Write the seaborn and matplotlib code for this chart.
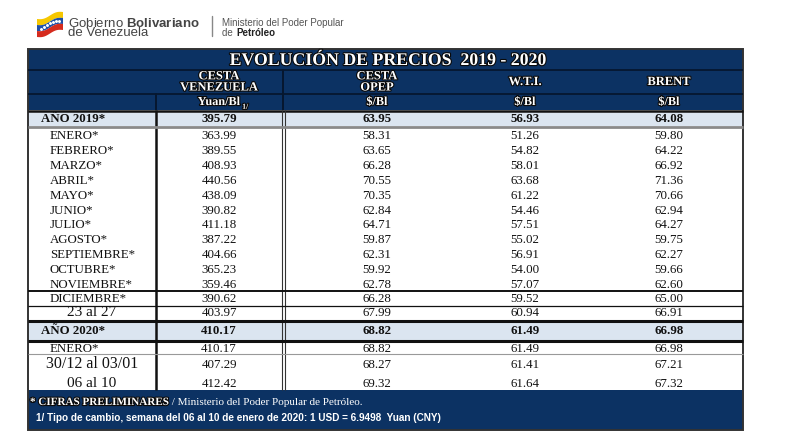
import numpy as np
import matplotlib.pyplot as plt
import matplotlib.patheffects as pe
from matplotlib.patches import Rectangle, Polygon
import seaborn as sns

sns.set_theme(style="white")
plt.rcParams['font.family'] = ['Liberation Serif', 'DejaVu Serif']
plt.rcParams['mathtext.fontset'] = 'custom'
plt.rcParams['mathtext.rm'] = 'Liberation Sans'
plt.rcParams['mathtext.bf'] = 'Liberation Sans:bold'

# ---- data ----
title = "EVOLUCIÓN DE PRECIOS  2019 - 2020"
columns = ["CESTA\nVENEZUELA", "CESTA\nOPEP", "W.T.I.", "BRENT"]
units = ["Yuan/Bl", "$/Bl", "$/Bl", "$/Bl"]

row_labels = ["AÑO 2019*", "ENERO*", "FEBRERO*", "MARZO*", "ABRIL*", "MAYO*",
              "JUNIO*", "JULIO*", "AGOSTO*", "SEPTIEMBRE*", "OCTUBRE*",
              "NOVIEMBRE*", "DICIEMBRE*", "23 al 27", "AÑO 2020*", "ENERO*",
              "30/12 al 03/01", "06 al 10"]
venezuela = [395.79, 363.99, 389.55, 408.93, 440.56, 438.09, 390.82, 411.18,
             387.22, 404.66, 365.23, 359.46, 390.62, 403.97, 410.17, 410.17,
             407.29, 412.42]
opep = [63.95, 58.31, 63.65, 66.28, 70.55, 70.35, 62.84, 64.71, 59.87, 62.31,
        59.92, 62.78, 66.28, 67.99, 68.82, 68.82, 68.27, 69.32]
wti = [56.93, 51.26, 54.82, 58.01, 63.68, 61.22, 54.46, 57.51, 55.02, 56.91,
       54.00, 57.07, 59.52, 60.94, 61.49, 61.49, 61.41, 61.64]
brent = [64.08, 59.80, 64.22, 66.92, 71.36, 70.66, 62.94, 64.27, 59.75, 62.27,
         59.66, 62.60, 65.00, 66.91, 66.98, 66.98, 67.21, 67.32]

footnote_a = "* CIFRAS PRELIMINARES"
footnote_b = " / Ministerio del Poder Popular de Petróleo."
footnote_c = "1/ Tipo de cambio, semana del 06 al 10 de enero de 2020: 1 USD = 6.9498  Yuan (CNY)"

# ---- layout ----
NAVY = '#0c3263'
LIGHT = '#dbe5f0'
INK = '#111111'
X0, X1 = 28, 743
col_x = [219, 377, 525, 669]
row_kind = ['year'] + ['month'] * 12 + ['week', 'year', 'month', 'week', 'week']
row_base = [122] + [139 + 14.9 * i for i in range(11)] + [302.5, 316.5, 334, 351.5, 368.5, 387]

fig = plt.figure(figsize=(8, 4.45), dpi=100)
ax = fig.add_axes([0, 0, 1, 1])
ax.set_xlim(0, 800)
ax.set_ylim(445, 0)
ax.axis('off')

# logo: waving flag
xs = np.linspace(37, 63, 40)
base = 19 - 0.27 * (xs - 37) + 1.5 * np.sin((xs - 37) / 26 * 2 * np.pi)
for k, c in enumerate(['#f6c700', '#1f4fa8', '#d52b1e']):
    top = base + 6 * k
    bot = base + 6 * (k + 1)
    ax.add_patch(Polygon(np.r_[np.c_[xs, top], np.c_[xs[::-1], bot[::-1]]],
                         closed=True, color=c, lw=0))
for s in np.linspace(41, 59, 7):
    yb = np.interp(s, xs, base) + 9.5 - 1.5 * np.sin((s - 41) / 18 * np.pi)
    ax.plot(s, yb, 'o', ms=1.1, color='white')

sans = ['Liberation Sans', 'DejaVu Sans']
ax.text(68, 36, "Gobierno $\\mathbf{Bolivariano}$\nde Venezuela", family=sans,
        fontsize=9.5, color='#444444', va='baseline', linespacing=0.72)
ax.plot([212, 212], [16, 36], color='#888888', lw=1)
ax.text(222.5, 26.5, "Ministerio del Poder Popular", family=sans, fontsize=7,
        color='#555555', va='baseline')
m1 = ax.text(222.5, 35.5, "de ", family=sans, fontsize=7, color='#555555', va='baseline')
ax.annotate("Petróleo", xy=(1, 0), xycoords=m1, family=sans, fontsize=7,
            fontweight='bold', color='#222222', va='bottom')

# table backgrounds
ax.add_patch(Rectangle((X0, 49), X1 - X0, 61, color=NAVY, lw=0))
ax.add_patch(Rectangle((X0, 390), X1 - X0, 40, color=NAVY, lw=0))
ax.add_patch(Rectangle((X0, 111), X1 - X0, 15, color=LIGHT, lw=0))
ax.add_patch(Rectangle((X0, 322), X1 - X0, 18, color=LIGHT, lw=0))

# header lines
ax.hlines([69.5, 93.5], X0, X1, color='#06172f', lw=1.3)
ax.hlines(110.5, X0, X1, color=INK, lw=1.8)
ax.vlines(282.5, 69, 110, color='#06172f', lw=1.4)
ax.vlines(156, 93, 110, color='#06172f', lw=1.4)

# body lines
ax.vlines(156, 110, 390, color=INK, lw=1.8)
ax.vlines([281.5, 284.5], 110, 390, color='#333333', lw=0.8)
ax.hlines(126.8, X0, X1, color='#8a8a8a', lw=2.0)
ax.hlines(290.5, X0, X1, color=INK, lw=1.4)
ax.hlines(305.5, X0, X1, color=INK, lw=0.9)
ax.hlines(321, X0, X1, color=INK, lw=2.2)
ax.hlines(341, X0, X1, color=INK, lw=2.2)
ax.hlines(354, X0, X1, color='#999999', lw=0.8)
ax.add_patch(Rectangle((X0, 49), X1 - X0, 381, fill=False, ec='#333333', lw=1.4))

# header text
emboss = [pe.withStroke(linewidth=1.6, foreground='#0a0a0a')]
ax.text(388, 65, title, ha='center', va='baseline', color='white',
        fontsize=12.8, fontweight='bold', path_effects=emboss)
for x, name, unit in zip(col_x, columns, units):
    lines = name.split('\n')
    if len(lines) == 2:
        ax.text(x, 79.3, lines[0], ha='center', va='baseline', color='white', fontsize=9,
                fontweight='bold', path_effects=emboss)
        ax.text(x, 90.5, lines[1], ha='center', va='baseline', color='white', fontsize=9,
                fontweight='bold', path_effects=emboss)
    else:
        ax.text(x, 85, name, ha='center', va='baseline', color='white', fontsize=9,
                fontweight='bold', path_effects=emboss)
    u = ax.text(x, 105, unit, ha='center', va='baseline', color='white', fontsize=8.8,
                fontweight='bold', path_effects=emboss)
    if unit.startswith('Yuan'):
        ax.annotate(" 1/", xy=(1, 0), xycoords=u, xytext=(0, -2), textcoords='offset points',
                    color='white', fontsize=5.5, fontweight='bold', va='bottom',
                    path_effects=emboss)

# body text
for i, (lab, kind, yb) in enumerate(zip(row_labels, row_kind, row_base)):
    bold = 'bold' if kind == 'year' else 'normal'
    if kind == 'year':
        ax.text(41, yb, lab, va='baseline', ha='left', fontsize=9.3, fontweight='bold', color=INK)
    elif kind == 'month':
        ax.text(50, yb, lab, va='baseline', ha='left', fontsize=9.3, color=INK)
    else:
        fs = 11.5 if '/' in lab else 11
        ax.text(92, yb, lab, va='baseline', ha='center', fontsize=fs, color=INK)
    for x, series in zip(col_x, [venezuela, opep, wti, brent]):
        ax.text(x, yb, f"{series[i]:.2f}", va='baseline', ha='center', fontsize=9.3,
                fontweight=bold, color=INK)

# footer
f1 = ax.text(30, 405, footnote_a, va='baseline', ha='left', color='white', fontsize=8,
             fontweight='bold', path_effects=emboss)
ax.annotate(footnote_b, xy=(1, 0), xycoords=f1, va='bottom', ha='left', color='white',
            fontsize=8)
ax.text(36, 421, footnote_c, va='baseline', ha='left', color='white', fontsize=7.2,
        family=sans, fontweight='bold')

fig.savefig('out.png', dpi=100)
